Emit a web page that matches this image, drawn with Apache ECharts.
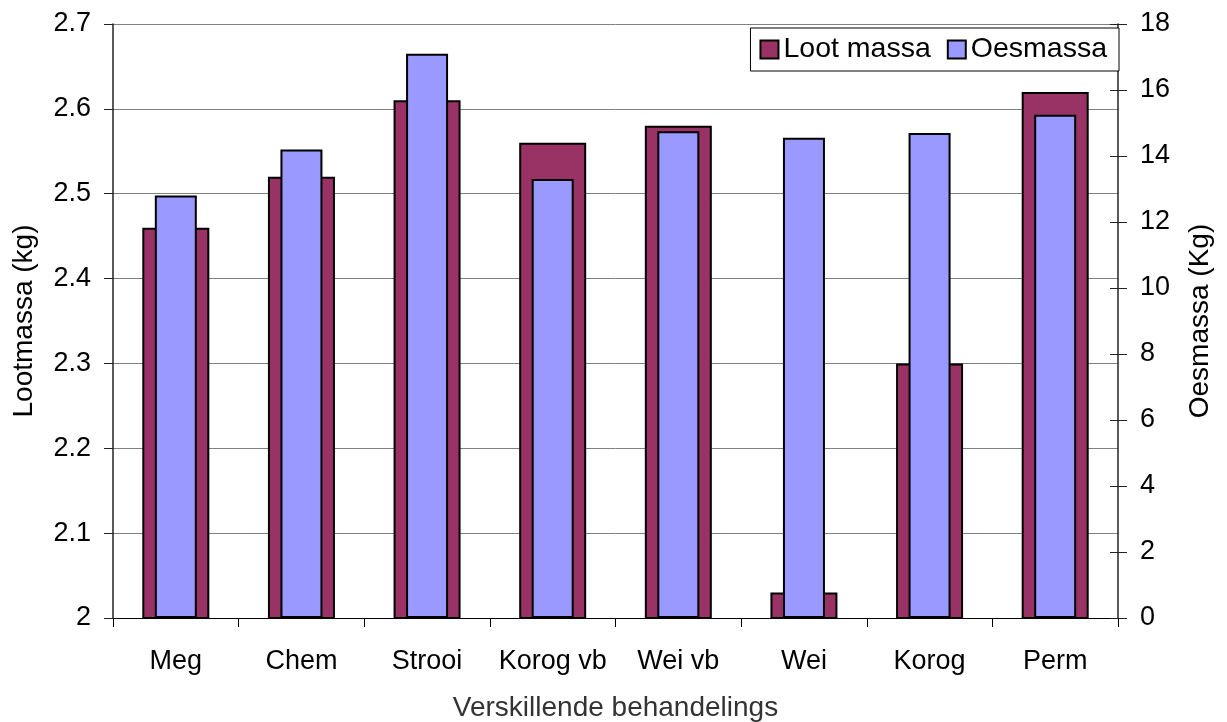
<!DOCTYPE html>
<html>
<head>
<meta charset="utf-8">
<title>Loot- en oesmassa per behandeling</title>
<script src="https://cdn.jsdelivr.net/npm/echarts@6/dist/echarts.min.js"></script>
<style>
  html, body { margin: 0; padding: 0; background: #fff; }
  #chart { width: 1227px; height: 722px; }
</style>
</head>
<body>
<div id="chart"></div>
<script>
// Behandelings (categories)
const categories = ['Meg', 'Chem', 'Strooi', 'Korog vb', 'Wei vb', 'Wei', 'Korog', 'Perm'];
// Loot massa (kg), left axis
const lootMassa = [2.46, 2.52, 2.61, 2.56, 2.58, 2.03, 2.30, 2.62];
// Oesmassa (Kg), right axis
const oesMassa = [12.8, 14.2, 17.1, 13.3, 14.75, 14.55, 14.7, 15.25];

const font = 'Liberation Sans, Arial, sans-serif';
const chart = echarts.init(document.getElementById('chart'), null, { renderer: 'canvas' });

chart.setOption({
  backgroundColor: '#ffffff',
  animation: false,
  textStyle: { fontFamily: font, color: '#000' },
  grid: { left: 113, right: 109, top: 24, bottom: 104, outerBoundsMode: 'none', containLabel: false },
  legend: {
    data: ['Loot massa', 'Oesmassa'],
    right: 108,
    top: 28,
    padding: [7, 12, 7, 9],
    itemGap: 16,
    itemWidth: 18,
    itemHeight: 18,
    icon: 'rect',
    borderColor: '#000',
    borderWidth: 1,
    backgroundColor: '#fff',
    textStyle: { fontSize: 28.5, color: '#000', fontFamily: font }
  },
  xAxis: [
    {
      type: 'category',
      data: categories,
      position: 'bottom',
      axisLine: { lineStyle: { color: '#000', width: 1 } },
      axisTick: { show: true, length: 9, lineStyle: { color: '#000' } },
      axisLabel: { interval: 0, fontSize: 27, color: '#000', margin: 30, fontFamily: font },
      name: 'Verskillende behandelings',
      nameLocation: 'middle',
      nameGap: 76,
      nameTextStyle: { fontSize: 28, color: '#333', fontFamily: font }
    },
    {
      type: 'category',
      data: categories,
      position: 'bottom',
      show: false
    }
  ],
  yAxis: [
    {
      type: 'value',
      min: 2,
      max: 2.7,
      interval: 0.1,
      position: 'left',
      axisLine: { show: true, lineStyle: { color: '#222', width: 1.5 } },
      axisTick: { show: true, length: 9, lineStyle: { color: '#222' } },
      axisLabel: { fontSize: 27, color: '#000', margin: 22, fontFamily: font },
      splitLine: { show: true, lineStyle: { color: '#808080', width: 1 } },
      name: 'Lootmassa (kg)',
      nameLocation: 'middle',
      nameRotate: 90,
      nameGap: 75,
      nameTextStyle: { fontSize: 28, color: '#000', fontFamily: font }
    },
    {
      type: 'value',
      min: 0,
      max: 18,
      interval: 2,
      position: 'right',
      axisLine: { show: true, lineStyle: { color: '#222', width: 1.5 } },
      axisTick: { show: true, length: 9, lineStyle: { color: '#222' } },
      axisLabel: { fontSize: 27, color: '#000', margin: 22, fontFamily: font },
      splitLine: { show: false },
      name: 'Oesmassa (Kg)',
      nameLocation: 'middle',
      nameRotate: 90,
      nameGap: 68,
      nameTextStyle: { fontSize: 28, color: '#000', fontFamily: font }
    },
    {
      // inner half of the right-hand ticks
      type: 'value',
      min: 0,
      max: 18,
      interval: 2,
      position: 'right',
      axisLine: { show: false },
      axisTick: { show: true, inside: true, length: 8, lineStyle: { color: '#222' } },
      axisLabel: { show: false },
      splitLine: { show: false }
    }
  ],
  series: [
    {
      name: 'Loot massa',
      type: 'bar',
      xAxisIndex: 0,
      yAxisIndex: 0,
      data: lootMassa,
      barWidth: 67,
      itemStyle: { color: '#993366', borderColor: '#000', borderWidth: 2 }
    },
    {
      name: 'Oesmassa',
      type: 'bar',
      xAxisIndex: 1,
      yAxisIndex: 1,
      data: oesMassa,
      barWidth: 42,
      itemStyle: { color: '#9999ff', borderColor: '#000', borderWidth: 2 }
    }
  ]
});
</script>
</body>
</html>
